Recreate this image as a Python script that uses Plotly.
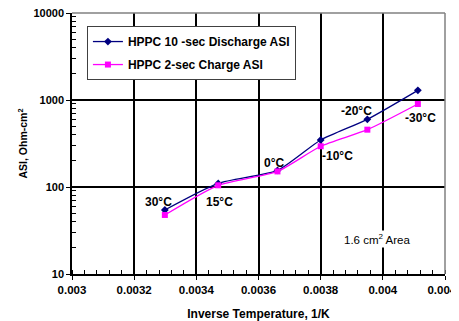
import math
import plotly.graph_objects as go

inv_temp = [0.0032987, 0.0034704, 0.0036610, 0.0038001, 0.0039502, 0.0041127]
discharge_asi = [54.4, 110, 155, 347, 600, 1292]
charge_asi = [47.7, 104.6, 151, 294, 456, 900]
temp_labels = ["30°C", "15°C", "0°C", "-10°C", "-20°C", "-30°C"]
label_x = [0.003277, 0.003473, 0.003650, 0.003855, 0.003916, 0.004122]
label_y = [67, 67, 189, 227, 748, 621]
x_tickvals = [0.003, 0.0032, 0.0034, 0.0036, 0.0038, 0.004, 0.0042]
x_ticktext = ["0.003", "0.0032", "0.0034", "0.0036", "0.0038", "0.004", "0.0042"]
y_tickvals = [10, 100, 1000, 10000]
y_ticktext = ["10", "100", "1000", "10000"]
y_minor = [m * d for d in (10, 100, 1000) for m in range(2, 10)]

FONT = "Liberation Sans, Arial, sans-serif"

fig = go.Figure()
fig.add_trace(go.Scatter(
    x=inv_temp, y=discharge_asi, mode="lines+markers",
    name="HPPC 10 -sec Discharge ASI", legendgroup="a",
    line=dict(color="#000080", width=1.3, shape="spline", smoothing=0.6),
    marker=dict(symbol="diamond", size=6, color="#000080"),
))
fig.add_trace(go.Scatter(
    x=inv_temp, y=charge_asi, mode="lines+markers",
    name="HPPC 2-sec Charge ASI", legendgroup="b",
    line=dict(color="#FF00FF", width=1.3, shape="spline", smoothing=0.6),
    marker=dict(symbol="square", size=6, color="#FF00FF"),
))

for tx, ty, tl in zip(label_x, label_y, temp_labels):
    fig.add_annotation(x=tx, y=math.log10(ty), yref="y", xref="x", text=tl, showarrow=False,
                       font=dict(family=FONT, size=12, color="black", weight="bold"))
fig.add_annotation(x=0.003981, y=math.log10(25.2), text="1.6 cm<sup>2</sup> Area",
                   showarrow=False, bgcolor="white", borderpad=1,
                   font=dict(family=FONT, size=11.5, color="black"))
fig.add_annotation(x=-50 / 373, y=0.5, xref="paper", yref="paper", textangle=-90,
                   text="ASI, Ohm-cm<sup>2</sup>", showarrow=False,
                   xanchor="center", yanchor="middle",
                   font=dict(family=FONT, size=10.5, color="black", weight="bold"))

fig.update_xaxes(
    range=[0.003, 0.00420001], tickvals=x_tickvals, ticktext=x_ticktext,
    showgrid=True, gridcolor="black", gridwidth=1.5,
    showline=True, linecolor="black", linewidth=1.5,
    ticks="outside", ticklen=4, tickcolor="black",
    minor=dict(dtick=0.00004, ticks="inside", ticklen=4, tickcolor="black", showgrid=False),
    tickfont=dict(family=FONT, size=11.5, color="black", weight="bold"),
    ticklabeloverflow="allow",
    title=dict(text="Inverse Temperature, 1/K",
               font=dict(family=FONT, size=12, color="black", weight="bold")),
    zeroline=False, automargin=False,
)
fig.update_yaxes(
    type="log", range=[1, 4], tickvals=y_tickvals, ticktext=y_ticktext,
    showgrid=True, gridcolor="black", gridwidth=1.5,
    showline=True, linecolor="black", linewidth=1.5,
    ticks="outside", ticklen=4, tickcolor="black",
    minor=dict(tickvals=y_minor, ticks="inside", ticklen=4, tickcolor="black", showgrid=False),
    tickfont=dict(family=FONT, size=11, color="black", weight="bold"),
    ticklabeloverflow="allow",
    zeroline=False, automargin=False,
)
fig.add_shape(type="line", xref="paper", yref="paper", x0=0, x1=1, y0=1, y1=1,
              line=dict(color="#808080", width=1.5))
fig.add_shape(type="line", xref="paper", yref="paper", x0=1, x1=1, y0=0, y1=1,
              line=dict(color="#808080", width=1.5))

fig.update_layout(
    width=451, height=313,
    margin=dict(l=64, r=14, t=5, b=47),
    paper_bgcolor="white", plot_bgcolor="white",
    showlegend=True,
    legend=dict(x=0.04, y=0.95, xanchor="left", yanchor="top",
                bgcolor="white", bordercolor="#404040", borderwidth=1,
                font=dict(family=FONT, size=12, color="black", weight="bold"),
                traceorder="grouped", tracegroupgap=4),
)

fig.write_html("out.html")
